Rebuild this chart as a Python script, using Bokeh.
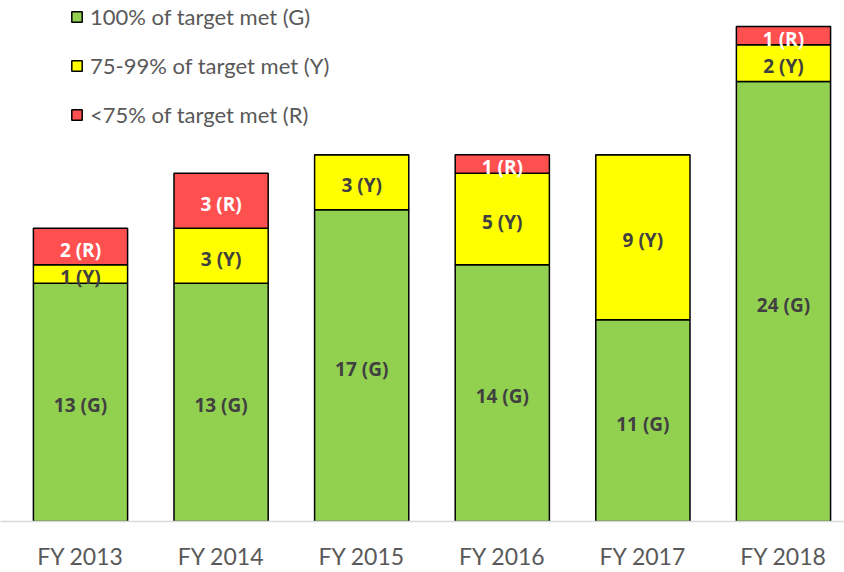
from bokeh.plotting import figure
from bokeh.models import ColumnDataSource, Range1d, Legend, LegendItem, FixedTicker, LabelSet
from bokeh.core.properties import value
from bokeh.embed import file_html
from bokeh.resources import INLINE

years = ["FY 2013", "FY 2014", "FY 2015", "FY 2016", "FY 2017", "FY 2018"]
green = [13, 13, 17, 14, 11, 24]
yellow = [1, 3, 3, 5, 9, 2]
red = [2, 3, 0, 1, 0, 1]
series_names = ["100% of target met (G)", "75-99% of target met (Y)", "<75% of target met (R)"]
series_codes = ["G", "Y", "R"]
colors = ["#92D050", "#FFFF00", "#FF5050"]
label_colors = ["#404040", "#404040", "#FFFFFF"]

FONT = "Lato"
LABEL_FONT = "Open Sans"
xs = list(range(len(years)))

src = ColumnDataSource(dict(x=xs, G=green, Y=yellow, R=red))

p = figure(width=844, height=572, output_backend="svg", toolbar_location=None,
           x_range=Range1d(-0.569, 5.434), y_range=Range1d(0, 28.42),
           min_border_left=0, min_border_right=0, min_border_top=0, min_border_bottom=48)
p.outline_line_color = None
p.grid.visible = False
p.yaxis.visible = False

renderers = p.vbar_stack(series_codes, x="x", width=0.67, source=src, color=colors,
                         line_color="black", line_width=1.5)

# labels
lx, ly, lt, lc = [], [], [], []
data = [green, yellow, red]
for i in xs:
    bottom = 0
    for s, vals in enumerate(data):
        v = vals[i]
        if v > 0:
            lx.append(i)
            ly.append(bottom + v / 2)
            lt.append(f"{v} ({series_codes[s]})")
            lc.append(label_colors[s])
        bottom += v
lsrc = ColumnDataSource(dict(x=lx, y=ly, t=lt, c=lc))
labels = LabelSet(x="x", y="y", text="t", source=lsrc, text_color="c",
                  text_align="center", text_baseline="middle", y_offset=-3,
                  text_font=value(LABEL_FONT), text_font_size=value("19px"),
                  text_font_style=value("bold"))
p.add_layout(labels)

xa = p.xaxis[0]
xa.ticker = FixedTicker(ticks=xs)
xa.major_label_overrides = {i: y for i, y in enumerate(years)}
xa.major_tick_line_color = None
xa.minor_tick_line_color = None
xa.axis_line_color = "#D9D9D9"
xa.axis_line_width = 1.5
xa.major_label_text_font = FONT
xa.major_label_text_font_size = "23px"
xa.major_label_text_color = "#595959"
xa.major_label_standoff = 14

legend = Legend(items=[LegendItem(label=series_names[k], renderers=[renderers[k]]) for k in range(3)],
                location=(70, 393), orientation="vertical",
                glyph_width=13, glyph_height=13, label_height=28, spacing=21,
                label_standoff=7, padding=0, margin=0,
                label_text_font=FONT, label_text_font_size="22px", label_text_color="#595959",
                border_line_color=None, background_fill_alpha=0)
p.add_layout(legend)

open("out.html", "w").write(file_html(p, INLINE))
